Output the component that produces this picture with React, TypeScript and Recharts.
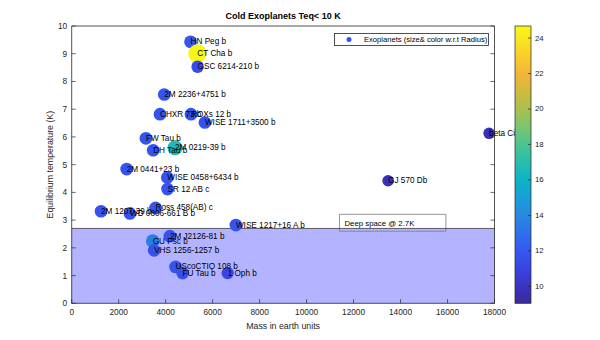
import React from 'react';
import { ScatterChart, Scatter, XAxis, YAxis, ReferenceArea, ReferenceLine, Legend } from 'recharts';

const planetNames = [
  'HN Peg b', 'CT Cha b', 'GSC 6214-210 b', '2M 2236+4751 b', 'CHXR 73 b', 'ROXs 12 b',
  'WISE 1711+3500 b', 'FW Tau b', '2M 0219-39 b', 'DH Tau b', '2M 0441+23 b', 'WISE 0458+6434 b',
  'SR 12 AB c', '2M 1207-39 b', 'Ross 458(AB) c', 'WD 0806-661 B b', 'WISE 1217+16 A b',
  '2M J2126-81 b', 'GU Psc b', 'VHS 1256-1257 b', 'UScoCTIO 108 b', 'FU Tau b', '1 Oph b',
  'beta Cir b', 'GJ 570 Db',
];
const massEarth = [
  5060, 5350, 5360, 3940, 3760, 5080, 5670, 3160, 4400, 3470, 2340, 4070, 4080, 1250, 3570,
  2480, 6990, 4180, 3450, 3510, 4420, 4720, 6640, 17770, 13470,
];
const teqK = [
  9.43, 9.01, 8.53, 7.53, 6.82, 6.82, 6.52, 5.95, 5.61, 5.52, 4.84, 4.54, 4.12, 3.32, 3.44,
  3.24, 2.82, 2.42, 2.24, 1.91, 1.31, 1.09, 1.09, 6.13, 4.42,
];
const radiusEarth = [
  11.9, 24.6, 11.3, 11.8, 11.8, 11.8, 11.6, 11.8, 16.6, 11.8, 11.8, 11.8, 11.8, 11.8, 11.8,
  11.8, 11.8, 11.8, 13.6, 11.6, 11.8, 11.6, 11.0, 9.7, 9.8,
];

const xTicks = [0, 2000, 4000, 6000, 8000, 10000, 12000, 14000, 16000, 18000];
const yTicks = [0, 1, 2, 3, 4, 5, 6, 7, 8, 9, 10];
const cbTicks = [10, 12, 14, 16, 18, 20, 22, 24];
const cbRange = [9.04, 24.68];
const deepSpaceK = 2.7;
const deepSpaceBox = { x1: 11400, x2: 15930, y1: 2.6, y2: 3.21 };

const cmapStops: [number, string][] = [
  [0.0, '#3b2a96'], [0.06, '#3b33c0'], [0.125, '#3a44e0'], [0.19, '#3558f0'],
  [0.25, '#2d70ec'], [0.317, '#2888e0'], [0.38, '#189fd6'], [0.445, '#0db3c6'],
  [0.51, '#28beac'], [0.573, '#4cc490'], [0.636, '#7cc56c'], [0.7, '#a8c150'],
  [0.764, '#cfbb3d'], [0.828, '#f3b43a'], [0.89, '#f9cd2c'], [1.0, '#f8f816'],
];

function hexToRgb(h: string) {
  return [parseInt(h.slice(1, 3), 16), parseInt(h.slice(3, 5), 16), parseInt(h.slice(5, 7), 16)];
}
function colorFor(v: number) {
  let t = (v - cbRange[0]) / (cbRange[1] - cbRange[0]);
  t = Math.max(0, Math.min(1, t));
  for (let i = 0; i < cmapStops.length - 1; i++) {
    const [t0, c0] = cmapStops[i];
    const [t1, c1] = cmapStops[i + 1];
    if (t >= t0 && t <= t1) {
      const f = (t - t0) / (t1 - t0);
      const a = hexToRgb(c0), b = hexToRgb(c1);
      const c = a.map((x, k) => Math.round(x + (b[k] - x) * f));
      return `rgb(${c[0]},${c[1]},${c[2]})`;
    }
  }
  return cmapStops[cmapStops.length - 1][1];
}

const data = planetNames.map((name, i) => ({ name, x: massEarth[i], y: teqK[i], r: radiusEarth[i] }));

const FONT = '"Liberation Sans", Arial, Helvetica, sans-serif';
const AX = '#262626';

const W = 600, H = 340;
const PLOT = { top: 26, right: 105.5, bottom: 36.7, left: 71.7 };
const AXH = { bottom: 20, top: 10, left: 30, right: 10 };
const M = {
  top: PLOT.top - AXH.top,
  right: PLOT.right - AXH.right,
  bottom: PLOT.bottom - AXH.bottom,
  left: PLOT.left - AXH.left,
};

const PointShape = (p: any) => {
  const rr = 1.85 * Math.sqrt(p.payload.r);
  return <circle cx={p.cx} cy={p.cy} r={rr} fill={colorFor(p.payload.r)} />;
};
const LabelShape = (p: any) => (
  <text x={p.cx} y={p.cy} dominantBaseline="central" fontSize={8.2} fill="#000" fontFamily={FONT}>
    {p.payload.name}
  </text>
);

const BottomTick = (p: any) => (
  <g>
    <line x1={p.x} x2={p.x} y1={p.y} y2={p.y - 4} stroke={AX} strokeWidth={0.7} />
    <text x={p.x} y={p.y + 8.6} textAnchor="middle" dominantBaseline="central" fontSize={8.3} fill={AX} fontFamily={FONT}>
      {p.payload.value}
    </text>
  </g>
);
const TopTick = (p: any) => (
  <line x1={p.x} x2={p.x} y1={p.y} y2={p.y + 4} stroke={AX} strokeWidth={0.7} />
);
const LeftTick = (p: any) => (
  <g>
    <line x1={p.x} x2={p.x + 4} y1={p.y} y2={p.y} stroke={AX} strokeWidth={0.7} />
    <text x={p.x - 4.5} y={p.y} textAnchor="end" dominantBaseline="central" fontSize={8.3} fill={AX} fontFamily={FONT}>
      {p.payload.value}
    </text>
  </g>
);
const RightTick = (p: any) => (
  <line x1={p.x} x2={p.x - 4} y1={p.y} y2={p.y} stroke={AX} strokeWidth={0.7} />
);

const XLabel = (p: any) => {
  const vb = p.viewBox;
  return (
    <text x={vb.x + vb.width / 2} y={vb.y + 26} textAnchor="middle" fontSize={8.8} fill={AX} fontFamily={FONT}>
      Mass in earth units
    </text>
  );
};
const TitleLabel = (p: any) => {
  const vb = p.viewBox;
  return (
    <text x={vb.x + vb.width / 2} y={vb.y + vb.height - 7} textAnchor="middle" fontSize={9} fontWeight="bold" fill="#000" fontFamily={FONT}>
      Cold Exoplanets Teq&lt; 10 K
    </text>
  );
};
const YLabel = (p: any) => {
  const vb = p.viewBox;
  const cx = vb.x + vb.width - 19;
  const cy = vb.y + vb.height / 2;
  return (
    <text x={cx} y={cy} transform={`rotate(-90 ${cx} ${cy})`} textAnchor="middle" fontSize={8.8} fill={AX} fontFamily={FONT}>
      Equilibrium temperature (K)
    </text>
  );
};

const DeepLabel = (p: any) => {
  const vb = p.viewBox;
  return (
    <text x={vb.x + 5} y={vb.y + vb.height / 2 + 0.5} dominantBaseline="central" fontSize={7.8} fill="#000" fontFamily={FONT}>
      Deep space @ 2.7K
    </text>
  );
};

const LegendContent = () => (
  <svg width={155} height={13} style={{ display: 'block' }}>
    <rect x={0.5} y={0.5} width={154} height={12} fill="#fff" stroke={AX} strokeWidth={0.8} />
    <circle cx={15} cy={6.5} r={2.5} fill={colorFor(11.8)} />
    <text x={30} y={6.8} dominantBaseline="central" fontSize={7.6} fill="#000" fontFamily={FONT}>
      Exoplanets (size&amp; color w.r.t Radius)
    </text>
  </svg>
);

const Colorbar = () => {
  const x0 = 515, x1 = 531, yTop = PLOT.top, yBot = H - PLOT.bottom;
  const yOf = (v: number) => yBot - ((v - cbRange[0]) / (cbRange[1] - cbRange[0])) * (yBot - yTop);
  return (
    <svg width={W} height={H} style={{ position: 'absolute', left: 0, top: 0, pointerEvents: 'none' }}>
      <defs>
        <linearGradient id="cbgrad" x1="0" y1="1" x2="0" y2="0">
          {cmapStops.map(([t, c], i) => (
            <stop key={i} offset={t} stopColor={c} />
          ))}
        </linearGradient>
      </defs>
      <rect x={x0} y={yTop} width={x1 - x0} height={yBot - yTop} fill="url(#cbgrad)" stroke={AX} strokeWidth={0.7} />
      {cbTicks.map((v) => (
        <g key={v}>
          <line x1={x1} x2={x1 - 3} y1={yOf(v)} y2={yOf(v)} stroke={AX} strokeWidth={0.7} />
          <text x={x1 + 4} y={yOf(v)} dominantBaseline="central" fontSize={7.8} fill={AX} fontFamily={FONT}>
            {v}
          </text>
        </g>
      ))}
    </svg>
  );
};

export default function App() {
  return (
    <div style={{ position: 'absolute', left: 0, top: 0, width: W, height: H, background: '#fff', fontFamily: FONT }}>
      <ScatterChart width={W} height={H} margin={M}>
        <XAxis
          type="number"
          dataKey="x"
          domain={[0, 18000]}
          ticks={xTicks}
          interval={0}
          height={AXH.bottom}
          tickSize={0}
          tickMargin={0}
          axisLine={{ stroke: AX, strokeWidth: 0.8 }}
          tickLine={false}
          tick={BottomTick}
          label={XLabel}
        />
        <XAxis
          xAxisId="top"
          orientation="top"
          type="number"
          domain={[0, 18000]}
          allowDataOverflow
          ticks={xTicks}
          interval={0}
          height={AXH.top}
          tickSize={0}
          tickMargin={0}
          axisLine={{ stroke: AX, strokeWidth: 0.8 }}
          tickLine={false}
          tick={TopTick}
          label={TitleLabel}
        />
        <YAxis
          type="number"
          dataKey="y"
          domain={[0, 10]}
          ticks={yTicks}
          interval={0}
          width={AXH.left}
          tickSize={0}
          tickMargin={0}
          axisLine={{ stroke: AX, strokeWidth: 0.8 }}
          tickLine={false}
          tick={LeftTick}
          label={YLabel}
        />
        <YAxis
          yAxisId="right"
          orientation="right"
          type="number"
          domain={[0, 10]}
          allowDataOverflow
          ticks={yTicks}
          interval={0}
          width={AXH.right}
          tickSize={0}
          tickMargin={0}
          axisLine={{ stroke: AX, strokeWidth: 0.8 }}
          tickLine={false}
          tick={RightTick}
        />
        <ReferenceArea x1={0} x2={18000} y1={0} y2={deepSpaceK} fill="#b3b3ff" fillOpacity={1} stroke="none" />
        <ReferenceLine y={deepSpaceK} stroke="#3a3a3a" strokeWidth={0.8} />
        <Scatter name="Exoplanets (size& color w.r.t Radius)" data={data} shape={PointShape} isAnimationActive={false} />
        <Scatter name="labels" data={data} shape={LabelShape} isAnimationActive={false} legendType="none" />
        <ReferenceArea
          x1={deepSpaceBox.x1}
          x2={deepSpaceBox.x2}
          y1={deepSpaceBox.y1}
          y2={deepSpaceBox.y2}
          fill="none"
          stroke="#7a7a7a"
          strokeWidth={0.8}
          label={DeepLabel}
        />
        <Legend
          layout="horizontal"
          verticalAlign="middle"
          align="center"
          content={LegendContent}
          wrapperStyle={{ position: 'absolute', left: 334, top: 33, width: 155, height: 13 }}
        />
      </ScatterChart>
      <Colorbar />
    </div>
  );
}
